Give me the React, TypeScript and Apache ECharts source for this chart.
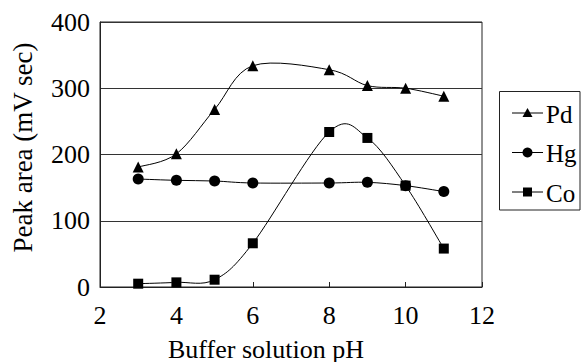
import React, { useEffect, useRef } from "react";
import * as echarts from "echarts";

const xValues = [3, 4, 5, 6, 8, 9, 10, 11];
const pdValues = [181, 201, 268, 334, 328, 304, 300, 288];
const hgValues = [163, 161, 160, 157, 157, 158, 153, 144];
const coValues = [5, 7, 11, 66, 234, 225, 153, 58];
const xTickLabels = [2, 4, 6, 8, 10, 12];
const yTickLabels = [0, 100, 200, 300, 400];
const seriesNames = ["Pd", "Hg", "Co"];
const xTitle = "Buffer solution pH";
const yTitle = "Peak area (mV sec)";

const FONT = "Liberation Serif";

function pairs(vals: number[]) {
  return xValues.map((x, i) => [x, vals[i]]);
}

function curveSeries(name: string, vals: number[]) {
  return {
    type: "custom" as const,
    name,
    z: 1,
    silent: true,
    clip: false,
    encode: { x: 0, y: 1 },
    data: pairs(vals).slice(0, -1),
    renderItem: (params: any, api: any) => {
      const i = params.dataIndex;
      const n = xValues.length;
      const p = (j: number) => {
        const k = Math.max(0, Math.min(n - 1, j));
        return api.coord([xValues[k], vals[k]]);
      };
      const p0 = p(i - 1);
      const p1 = p(i);
      const p2 = p(i + 1);
      const p3 = p(i + 2);
      const t = 1 / 6;
      return {
        type: "bezierCurve",
        shape: {
          x1: p1[0],
          y1: p1[1],
          x2: p2[0],
          y2: p2[1],
          cpx1: p1[0] + (p2[0] - p0[0]) * t,
          cpy1: p1[1] + (p2[1] - p0[1]) * t,
          cpx2: p2[0] - (p3[0] - p1[0]) * t,
          cpy2: p2[1] - (p3[1] - p1[1]) * t,
        },
        style: { stroke: "#000", lineWidth: 1, fill: null },
      };
    },
  };
}

function txt(text: string, x: number, y: number, size: number, align: string, extra: any = {}) {
  return {
    type: "text",
    x,
    y,
    silent: true,
    z: 10,
    ...extra,
    style: {
      text,
      font: size + "px " + FONT,
      fill: "#000",
      align,
      verticalAlign: "middle",
      textAlign: align,
      textVerticalAlign: "middle",
    },
  };
}

export default function App() {
  const ref = useRef<HTMLDivElement>(null);
  useEffect(() => {
    if (!ref.current) return;
    const chart = echarts.init(ref.current, null, { renderer: "svg" });
    const markerCommon = {
      type: "line" as const,
      z: 3,
      lineStyle: { color: "#000", width: 0, opacity: 0 },
      itemStyle: { color: "#000" },
      showSymbol: true,
    };
    chart.setOption({
      animation: false,
      backgroundColor: "#fff",
      grid: {
        left: 100,
        top: 22,
        right: 101,
        bottom: 75,
        show: true,
        borderColor: "#222",
        borderWidth: 1,
      },
      xAxis: {
        type: "value",
        min: xTickLabels[0],
        max: xTickLabels[xTickLabels.length - 1],
        interval: 2,
        axisLine: { show: true, lineStyle: { color: "#222", width: 1 } },
        axisTick: { show: true, inside: true, length: 5, lineStyle: { color: "#222" } },
        axisLabel: { show: false },
        splitLine: { show: false },
      },
      yAxis: {
        type: "value",
        min: yTickLabels[0],
        max: yTickLabels[yTickLabels.length - 1],
        interval: 100,
        axisLine: { show: true, lineStyle: { color: "#222", width: 1 } },
        axisTick: { show: false },
        axisLabel: { show: false },
        splitLine: { show: true, lineStyle: { color: "#333", width: 1 } },
      },
      series: [
        curveSeries("Pd curve", pdValues),
        curveSeries("Hg curve", hgValues),
        curveSeries("Co curve", coValues),
        { ...markerCommon, name: seriesNames[0], symbol: "triangle", symbolSize: 11, data: pairs(pdValues) },
        { ...markerCommon, name: seriesNames[1], symbol: "circle", symbolSize: 11, data: pairs(hgValues) },
        { ...markerCommon, name: seriesNames[2], symbol: "rect", symbolSize: 10, data: pairs(coValues) },
      ],
    });

    const g: any[] = [];
    const y0 = chart.convertToPixel({ yAxisIndex: 0 }, yTickLabels[0]) as number;
    const x0 = chart.convertToPixel({ xAxisIndex: 0 }, xTickLabels[0]) as number;
    const x1 = chart.convertToPixel({ xAxisIndex: 0 }, xTickLabels[xTickLabels.length - 1]) as number;
    const yTop = chart.convertToPixel({ yAxisIndex: 0 }, yTickLabels[yTickLabels.length - 1]) as number;
    xTickLabels.forEach((v) => {
      const px = chart.convertToPixel({ xAxisIndex: 0 }, v) as number;
      g.push(txt(String(v), px, y0 + 28, 26, "center"));
    });
    yTickLabels.forEach((v) => {
      const py = chart.convertToPixel({ yAxisIndex: 0 }, v) as number;
      g.push(txt(String(v), x0 - 10, py, 26, "right"));
    });
    g.push(txt(xTitle, (x0 + x1) / 2 + 75 - 75 + (266 - (x0 + x1) / 2), y0 + 62, 26, "center"));
    g.push(txt(yTitle, 23, (y0 + yTop) / 2 - 7, 27, "center", { rotation: Math.PI / 2 }));

    // legend box
    const lx = 499.5;
    const ly = 91.5;
    g.push({
      type: "rect",
      silent: true,
      z: 9,
      shape: { x: lx, y: ly, width: 80.5, height: 118.5 },
      style: { fill: "#fff", stroke: "#222", lineWidth: 1 },
    });
    const rowY = [113, 152.5, 192];
    rowY.forEach((ry, i) => {
      g.push({
        type: "line",
        silent: true,
        z: 10,
        shape: { x1: 512, y1: ry, x2: 543, y2: ry },
        style: { stroke: "#000", lineWidth: 1 },
      });
      const cx = 527.5;
      if (i === 0) {
        g.push({
          type: "polygon",
          silent: true,
          z: 11,
          shape: { points: [[cx, ry - 5], [cx + 5, ry + 4], [cx - 5, ry + 4]] },
          style: { fill: "#000" },
        });
      } else if (i === 1) {
        g.push({ type: "circle", silent: true, z: 11, shape: { cx, cy: ry, r: 5 }, style: { fill: "#000" } });
      } else {
        g.push({ type: "rect", silent: true, z: 11, shape: { x: cx - 4.5, y: ry - 4.5, width: 9, height: 9 }, style: { fill: "#000" } });
      }
      g.push(txt(seriesNames[i], 546, ry + 1, 25, "left"));
    });
    chart.setOption({ graphic: g });
    return () => chart.dispose();
  }, []);
  return (
    <div
      ref={ref}
      style={{ position: "absolute", left: 0, top: 0, width: 583, height: 362 }}
    />
  );
}
